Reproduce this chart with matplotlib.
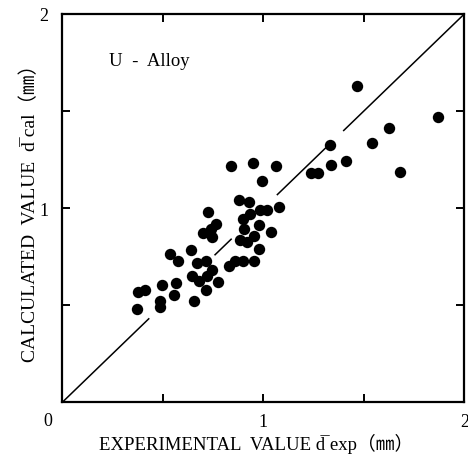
import matplotlib
matplotlib.use("Agg")
import matplotlib.pyplot as plt

plt.rcParams['font.family'] = ['Liberation Serif', 'DejaVu Serif', 'Noto Sans CJK JP']

# Data: experimental vs calculated mean diameter (mm)
d_exp = [1.468, 1.867, 1.623, 1.543, 1.332, 1.413, 1.335, 1.235, 1.272, 1.679,
         0.840, 0.948, 1.061, 0.993, 0.879, 0.928, 1.077, 0.986, 1.019, 0.936,
         0.899, 0.723, 0.766, 0.740, 0.698, 0.745, 0.978, 1.039, 0.903, 0.886,
         0.953, 0.919, 0.978, 0.953, 0.899, 0.861, 0.831, 0.640, 0.534, 0.575,
         0.670, 0.717, 0.745, 0.647, 0.678, 0.720, 0.775, 0.715, 0.653, 0.565,
         0.494, 0.554, 0.484, 0.487, 0.379, 0.412, 0.374]
d_cal = [1.627, 1.468, 1.413, 1.336, 1.325, 1.241, 1.222, 1.181, 1.183, 1.188,
         1.219, 1.231, 1.219, 1.142, 1.040, 1.030, 1.004, 0.991, 0.991, 0.970,
         0.944, 0.979, 0.918, 0.893, 0.870, 0.850, 0.913, 0.876, 0.893, 0.838,
         0.858, 0.824, 0.790, 0.730, 0.726, 0.730, 0.704, 0.786, 0.764, 0.730,
         0.716, 0.726, 0.683, 0.652, 0.627, 0.652, 0.621, 0.579, 0.524, 0.615,
         0.606, 0.553, 0.524, 0.489, 0.570, 0.580, 0.481]

# y = x reference line, drawn in pieces (broken where dots crowd it)
diag_pieces = [(0.0, 0.43), (0.76, 0.84), (1.07, 1.31), (1.40, 2.0)]

tick_pos = [0, 0.5, 1, 1.5, 2]
x_tick_labels = ['', '', '1', '', '2']
y_tick_labels = ['', '', '1', '', '2']

fig = plt.figure(figsize=(4.68, 4.56), dpi=100)
ax = fig.add_axes([62.3 / 468, 1 - 403.3 / 456, 402 / 468, 388.3 / 456])

for a, b in diag_pieces:
    ax.plot([a, b], [a, b], color='black', lw=1.1)

ax.plot(d_exp, d_cal, 'o', color='black', markersize=8.2, markeredgewidth=0)

ax.set_xlim(0, 2)
ax.set_ylim(0, 2)
ax.set_xticks(tick_pos)
ax.set_yticks(tick_pos)
ax.set_xticklabels(x_tick_labels, fontsize=13)
ax.set_yticklabels(y_tick_labels, fontsize=13)
ax.tick_params(direction='in', length=6, width=1.4, top=True, right=True)
ax.tick_params(axis='x', pad=8)
ax.tick_params(axis='y', pad=10)
for s in ax.spines.values():
    s.set_linewidth(1.6)

ax.text(-0.071, -0.096, '0', fontsize=13, ha='center', va='center')

ax.text(0.23, 1.76, 'U  -  Alloy', fontsize=13.5, ha='left', va='center')

fig.text(256 / 468, 1 - 444 / 456,
         'EXPERIMENTAL  VALUE d\u0305 exp（㎜）',
         fontsize=13.5, ha='center', va='center')
fig.text(30 / 468, 1 - 208 / 456,
         'CALCULATED  VALUE  d\u0305 cal（㎜）',
         fontsize=14, ha='center', va='center', rotation=90)

fig.savefig('out.png', dpi=100)
